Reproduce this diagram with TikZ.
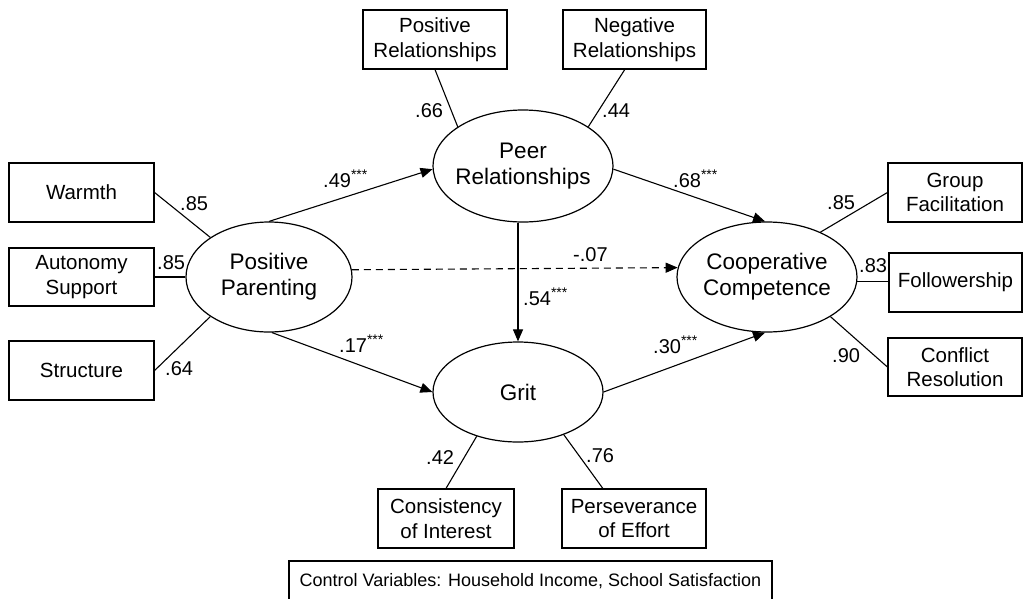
\documentclass[tikz,border=0pt]{standalone}
\usepackage{fontspec}
\setmainfont{Liberation Sans}
\usetikzlibrary{arrows.meta,shapes.geometric}
\begin{document}
\begin{tikzpicture}[x=1pt,y=-1pt,
  box/.style={draw,line width=1.2pt,inner sep=0pt,align=center,font=\fontsize{20.5}{24.5}\selectfont},
  lat/.style={draw,ellipse,line width=1.2pt,inner sep=-8pt,align=center,font=\fontsize{22.5}{26}\selectfont},
  lnk/.style={line width=1.1pt},
  arr/.style={line width=1.1pt,-{Triangle[length=12pt,width=10pt]}},
  dsh/.style={dash pattern=on 7pt off 5pt},
  lab/.style={inner sep=0pt,anchor=base west,font=\fontsize{20}{24}\selectfont},
]
\useasboundingbox[fill=white] (0,0) rectangle (1023,598);

% indicator boxes
\node[box,minimum width=145pt,minimum height=59pt] (warmth) at (81.5,192.5) {Warmth};
\node[box,minimum width=145pt,minimum height=58pt] (auto) at (81.5,277) {Autonomy\\Support};
\node[box,minimum width=145pt,minimum height=59pt] (struct) at (81.5,370.5) {Structure};
\node[box,minimum width=144pt,minimum height=59pt] (posrel) at (435,39.5) {Positive\\Relationships};
\node[box,minimum width=143pt,minimum height=59pt] (negrel) at (634.5,39.5) {Negative\\Relationships};
\node[box,minimum width=134pt,minimum height=59pt] (group) at (955,192.5) {Group\\Facilitation};
\node[box,minimum width=133pt,minimum height=59pt] (follow) at (955.5,282.5) {Followership};
\node[box,minimum width=134pt,minimum height=58pt] (conflict) at (955,367) {Conflict\\Resolution};
\node[box,minimum width=136pt,minimum height=59pt] (consist) at (446,518.5) {Consistency\\of Interest};
\node[box,minimum width=144pt,minimum height=59pt] (persev) at (634,518.5) {Perseverance\\of Effort};
\node[box,minimum width=483pt,minimum height=40pt,font=\fontsize{18}{22}\selectfont] (control) at (530.5,581) {Control Variables: Household Income, School Satisfaction};

% latent variables
\node[lat,minimum width=166pt,minimum height=110pt] (pp) at (269,277) {Positive\\Parenting};
\node[lat,minimum width=180pt,minimum height=112pt] (peer) at (523,166) {Peer\\Relationships};
\node[lat,minimum width=180pt,minimum height=110pt] (coop) at (767,277) {Cooperative\\Competence};
\node[lat,minimum width=170pt,minimum height=100pt] (grit) at (518,392) {Grit};

% loadings
\draw[lnk] (warmth.east) -- (pp.146);
\draw[lnk] (auto.east) -- (pp.west);
\draw[lnk] (struct.east) -- (pp.214);
\draw[lnk] (posrel.south) -- (peer.149);
\draw[lnk] (negrel.252) -- (peer.31);
\draw[lnk] (group.west) -- (coop.40);
\draw[lnk] (coop.-3.5) -- (coop.-3.5 -| follow.west);
\draw[lnk] (conflict.west) -- (coop.-32);
\draw[lnk] (consist.north) -- (grit.227);
\draw[lnk] (persev.136) -- (grit.-43);

% structural paths
\draw[arr] (pp.north) -- (peer.182);
\draw[arr] (peer.-2) -- (coop.92);
\draw[arr,dsh] (pp.5) -- (coop.174);
\draw[arr] (grit.north |- peer.south) -- (grit.north);
\draw[arr] (pp.-87) -- (grit.west);
\draw[arr] (grit.east) -- (coop.-92);

% labels
\node[lab] (l49) at (323,187) {.49\textsuperscript{***}};
\node[lab] (l68) at (673,187) {.68\textsuperscript{***}};
\node[lab] (l07) at (573,261) {-.07};
\node[lab] (l54) at (523,305) {.54\textsuperscript{***}};
\node[lab] (l17) at (339,352) {.17\textsuperscript{***}};
\node[lab] (l30) at (653,353) {.30\textsuperscript{***}};
\node[lab] (lw) at (180,210) {.85};
\node[lab] (la) at (157,269) {.85};
\node[lab] (ls) at (165,375) {.64};
\node[lab] (lpr) at (415,117) {.66};
\node[lab] (lnr) at (602,117) {.44};
\node[lab] (lg) at (827,209) {.85};
\node[lab] (lf) at (859,272) {.83};
\node[lab] (lc) at (832,362) {.90};
\node[lab] (lci) at (426,464) {.42};
\node[lab] (lpe) at (586,462) {.76};
\end{tikzpicture}
\end{document}
